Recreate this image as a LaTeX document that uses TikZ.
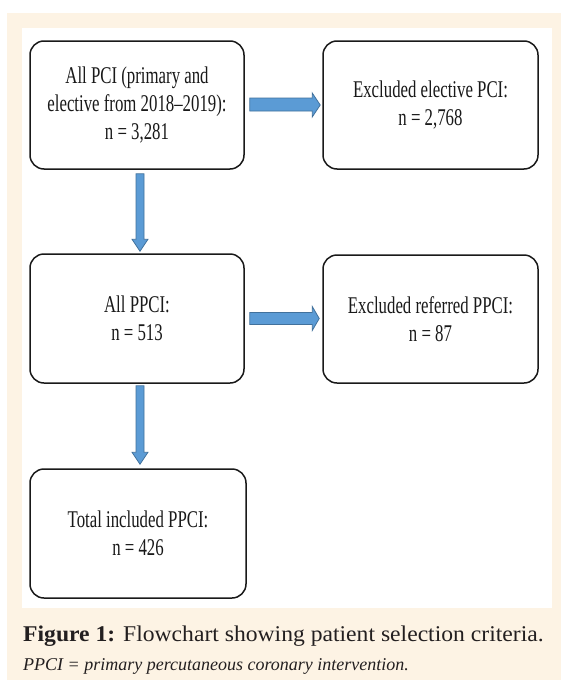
\documentclass[tikz,border=0pt]{standalone}
\usepackage{fontspec}
\setmainfont{Liberation Serif}
\newfontfamily\boxfont[FakeStretch=0.7,Ligatures=TeX]{Liberation Serif}
\newfontfamily\capfont[FakeStretch=1.05,Ligatures=TeX]{Liberation Serif}
\usetikzlibrary{calc}
\definecolor{cream}{HTML}{FDF3E4}
\definecolor{arrowfill}{HTML}{5B9BD5}
\definecolor{arrowline}{HTML}{41719C}
\definecolor{captext}{HTML}{231F20}
\tikzset{
  flowbox/.style={draw=black!90, line width=1.5pt, rounded corners=14pt,
    inner sep=0pt, align=center, text=black!90,
    font=\boxfont\fontsize{24}{28}\selectfont},
  blockarrow/.style={fill=arrowfill, draw=arrowline, line width=0.8pt, line join=miter}
}
\begin{document}
\begin{tikzpicture}[x=1pt,y=-1pt]
\useasboundingbox (0,0) rectangle (561,680);
\fill[cream] (7,13) rectangle (561,680);
\fill[white] (22,28) rectangle (552,608);

\node[flowbox, minimum width=214pt, minimum height=128pt] (b1) at (137,105)
  {All PCI (primary and\\elective from 2018\textendash 2019):\\n = 3,281};
\node[flowbox, minimum width=215pt, minimum height=128pt] (b2) at (430.5,105)
  {Excluded elective PCI:\\n = 2,768};
\node[flowbox, minimum width=214pt, minimum height=129pt] (b3) at (137,318.5)
  {All PPCI:\\n = 513};
\node[flowbox, minimum width=215pt, minimum height=128pt] (b4) at (430.5,319)
  {Excluded referred PPCI:\\n = 87};
\node[flowbox, minimum width=216pt, minimum height=129pt] (b5) at (138,533.5)
  {Total included PPCI:\\n = 426};

% vertical arrow b1 -> b3
\draw[blockarrow]
  ($(b1.south)+(-1,4)$) -- ($(b1.south |- b3.north)+(-1,-14)$)
  -- ($(b1.south |- b3.north)+(-5,-14)$) -- ($(b1.south |- b3.north)+(3,-2)$)
  -- ($(b1.south |- b3.north)+(11,-14)$) -- ($(b1.south |- b3.north)+(7,-14)$)
  -- ($(b1.south)+(7,4)$) -- cycle;
% vertical arrow b3 -> b5
\draw[blockarrow]
  ($(b3.south)+(-1,2)$) -- ($(b3.south |- b5.north)+(-1,-16)$)
  -- ($(b3.south |- b5.north)+(-5,-16)$) -- ($(b3.south |- b5.north)+(3,-4)$)
  -- ($(b3.south |- b5.north)+(11,-16)$) -- ($(b3.south |- b5.north)+(7,-16)$)
  -- ($(b3.south)+(7,2)$) -- cycle;
% horizontal arrow b1 -> b2
\draw[blockarrow]
  ($(b1.east)+(5,-7)$) -- ($(b2.west |- b1.east)+(-10,-7)$)
  -- ($(b2.west |- b1.east)+(-10,-12)$) -- ($(b2.west |- b1.east)+(-2,0)$)
  -- ($(b2.west |- b1.east)+(-10,12)$) -- ($(b2.west |- b1.east)+(-10,6)$)
  -- ($(b1.east)+(5,6)$) -- cycle;
% horizontal arrow b3 -> b4
\draw[blockarrow]
  ($(b3.east)+(5,-6)$) -- ($(b4.west |- b3.east)+(-10,-6)$)
  -- ($(b4.west |- b3.east)+(-10,-12)$) -- ($(b4.west |- b3.east)+(-3,0)$)
  -- ($(b4.west |- b3.east)+(-10,12)$) -- ($(b4.west |- b3.east)+(-10,6)$)
  -- ($(b3.east)+(5,6)$) -- cycle;

\node[anchor=base west, inner sep=0pt, text=captext,
  font=\capfont\fontsize{22.5}{26}\selectfont] (cap1) at (23,641)
  {\textbf{Figure 1:} Flowchart showing patient selection criteria.};
\node[anchor=base west, inner sep=0pt, text=captext,
  font=\fontsize{18}{21}\selectfont\itshape] (cap2) at (23,670)
  {PPCI = primary percutaneous coronary intervention.};
\end{tikzpicture}
\end{document}
